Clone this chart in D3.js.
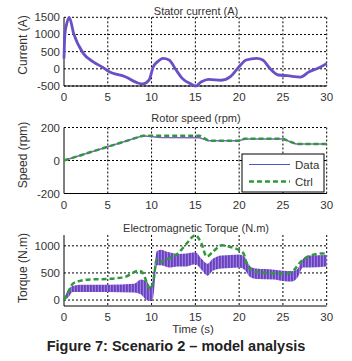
<!DOCTYPE html>
<html>
<head>
<meta charset="utf-8">
<script src="https://cdn.jsdelivr.net/npm/d3@7"></script>
<style>
  body { margin: 0; background: #fff; }
  svg text { font-family: "Liberation Sans", Arial, sans-serif; fill: #333; }
</style>
</head>
<body>
<div id="chart"></div>
<script>
// stator current (A)
var curT = [0, 0.1, 0.3, 0.6, 1.1, 2.2, 3.3, 4.6, 5, 7, 8.5, 9, 9.7, 10.2, 10.7, 11.3, 12, 12.8, 13.5, 14.5, 15, 15.7, 16.5, 18, 19, 20, 20.8, 22, 22.7, 23.5, 24.5, 25.5, 27, 28, 29, 30];
var curV = [300, 1000, 1300, 1500, 1030, 450, 210, 15, -60, -230, -420, -440, -330, 60, 210, 305, 257, -34, -277, -440, -500, -375, -306, -333, -229, 60, 257, 305, 257, 15, -180, -200, -240, -84, 15, 160];

// rotor speed (rpm)
var spdT = [0, 9, 11, 15.5, 16.5, 20, 20.6, 25, 26.5, 30];
var spdData = [0, 150, 140, 138, 120, 120, 130, 130, 100, 100];
var spdCtrl = [0, 150, 150, 150, 120, 120, 132, 132, 100, 100];

// electromagnetic torque (N.m)
var trqCtrlT = [0, 0.5, 1, 2, 3, 5, 7, 8.5, 9, 9.5, 9.8, 10.2, 10.6, 11, 12, 13, 14, 15, 15.7, 16.3, 17, 18, 19, 20, 20.5, 21, 22, 25, 26, 27, 28, 29.5, 30];
var trqCtrl = [0, 150, 300, 360, 380, 390, 430, 540, 500, 300, 200, 350, 750, 700, 770, 860, 1040, 1196, 1040, 800, 890, 1010, 980, 920, 860, 610, 520, 490, 520, 700, 810, 860, 860];
var trqT = [0, 0.5, 1, 2, 5, 8, 8.8, 9.4, 9.9, 10.2, 10.6, 11, 12, 13, 14, 15, 15.7, 16.4, 17, 18, 19, 20, 20.6, 21.3, 22, 24, 25, 26, 26.7, 27.3, 28, 30];
var trqHi = [0, 200, 260, 280, 280, 300, 380, 350, 250, 450, 900, 930, 880, 850, 860, 880, 760, 670, 760, 820, 830, 840, 800, 620, 580, 560, 540, 530, 580, 760, 820, 830];
var trqLo = [0, 50, 150, 150, 150, 140, 100, 0, -20, 50, 640, 640, 600, 620, 620, 660, 560, 450, 540, 580, 590, 600, 560, 420, 390, 380, 350, 340, 420, 600, 600, 620];

var xTicks = [0, 5, 10, 15, 20, 25, 30];
var blue = "#4a58c8", purple = "#6a4fc6", green = "#2f9a3c";

var svg = d3.select("#chart").append("svg").attr("width", 352).attr("height", 361);

var defs = svg.append("defs");
var pat = defs.append("pattern").attr("id", "ripple").attr("patternUnits", "userSpaceOnUse")
  .attr("width", 3).attr("height", 4);
pat.append("rect").attr("width", 3).attr("height", 4).attr("fill", "#9b7fdc");
pat.append("rect").attr("width", 1.8).attr("height", 4).attr("fill", "#6a3fc0");

var x = d3.scaleLinear().domain([0, 30]).range([64, 326.7]);

function panel(opt) {
  var y = d3.scaleLinear().domain(opt.domain).range(opt.range);
  var g = svg.append("g");
  var top = opt.range[1], bot = opt.range[0];
  // grid
  g.selectAll(".vg").data(xTicks.slice(1)).enter().append("line")
    .attr("x1", d => x(d)).attr("x2", d => x(d)).attr("y1", top).attr("y2", bot)
    .attr("stroke", "#000").attr("stroke-dasharray", "2,2");
  g.selectAll(".hg").data(opt.ticks).enter().append("line")
    .attr("x1", x(0)).attr("x2", x(30)).attr("y1", d => y(d)).attr("y2", d => y(d))
    .attr("stroke", "#000").attr("stroke-dasharray", "2,2");
  // axes
  g.append("line").attr("x1", x(0)).attr("x2", x(0)).attr("y1", top).attr("y2", bot).attr("stroke", "#000");
  g.append("line").attr("x1", x(0)).attr("x2", x(30)).attr("y1", bot).attr("y2", bot).attr("stroke", "#000");
  // tick labels
  g.selectAll(".yt").data(opt.ticks).enter().append("text")
    .attr("x", 60).attr("y", d => y(d) + 4).attr("text-anchor", "end")
    .style("font-size", "11.5px").text(d => d);
  g.selectAll(".xt").data(xTicks).enter().append("text")
    .attr("x", d => x(d)).attr("y", bot + 15).attr("text-anchor", "middle")
    .style("font-size", "11.5px").text(d => d);
  g.append("text").attr("x", 196).attr("y", opt.titleY).attr("text-anchor", "middle")
    .style("font-size", "11px").text(opt.title);
  g.append("text").attr("transform", "translate(27," + opt.labelY + ") rotate(-90)")
    .attr("text-anchor", "middle").style("font-size", "12px").text(opt.label);
  return { g: g, y: y };
}

// stator current
var p1 = panel({ domain: [-500, 1500], range: [86, 17.3], ticks: [-500, 0, 500, 1000, 1500],
  title: "Stator current (A)", titleY: 15, label: "Current (A)", labelY: 45 });
p1.g.append("path").datum(d3.range(curT.length))
  .attr("d", d3.line().x(i => x(curT[i])).y(i => p1.y(curV[i])).curve(d3.curveMonotoneX))
  .attr("fill", "none").attr("stroke", purple).attr("stroke-width", 2.8);

// rotor speed
var p2 = panel({ domain: [-200, 200], range: [193.5, 127.5], ticks: [-200, 0, 200],
  title: "Rotor speed (rpm)", titleY: 122, label: "Speed (rpm)", labelY: 155 });
p2.g.append("path").datum(d3.range(spdT.length))
  .attr("d", d3.line().x(i => x(spdT[i])).y(i => p2.y(spdData[i])))
  .attr("fill", "none").attr("stroke", "#8a5cc8").attr("stroke-width", 1.5);
p2.g.append("path").datum(d3.range(spdT.length))
  .attr("d", d3.line().x(i => x(spdT[i])).y(i => p2.y(spdCtrl[i])))
  .attr("fill", "none").attr("stroke", green).attr("stroke-width", 2.5).attr("stroke-dasharray", "5,3");
// legend
var lg = p2.g.append("g");
lg.append("rect").attr("x", 242).attr("y", 154).attr("width", 82).attr("height", 38)
  .attr("fill", "#fff").attr("stroke", "#000");
lg.append("line").attr("x1", 249).attr("x2", 290).attr("y1", 164.5).attr("y2", 164.5)
  .attr("stroke", blue).attr("stroke-width", 1.2);
lg.append("line").attr("x1", 249).attr("x2", 290).attr("y1", 181.5).attr("y2", 181.5)
  .attr("stroke", green).attr("stroke-width", 2.5).attr("stroke-dasharray", "5,3");
lg.append("text").attr("x", 295).attr("y", 168.5).style("font-size", "11.5px").text("Data");
lg.append("text").attr("x", 295).attr("y", 185.5).style("font-size", "11.5px").text("Ctrl");

// torque
var p3 = panel({ domain: [-110, 1200], range: [306, 235], ticks: [0, 500, 1000],
  title: "Electromagnetic Torque (N.m)", titleY: 232, label: "Torque (N.m)", labelY: 268 });
p3.g.append("path").datum(d3.range(trqT.length))
  .attr("d", d3.area().x(i => x(trqT[i])).y0(i => p3.y(trqLo[i])).y1(i => p3.y(trqHi[i])).curve(d3.curveMonotoneX))
  .attr("fill", "url(#ripple)");
p3.g.append("path").datum(d3.range(trqCtrlT.length))
  .attr("d", d3.line().x(i => x(trqCtrlT[i])).y(i => p3.y(trqCtrl[i])).curve(d3.curveMonotoneX))
  .attr("fill", "none").attr("stroke", green).attr("stroke-width", 2.5).attr("stroke-dasharray", "5,3");
svg.append("text").attr("x", 193).attr("y", 333).attr("text-anchor", "middle")
  .style("font-size", "11.5px").text("Time (s)");

svg.append("text").attr("x", 176).attr("y", 351).attr("text-anchor", "middle")
  .style("font-size", "14.5px").style("font-weight", "bold").style("fill", "#222")
  .text("Figure 7: Scenario 2 – model analysis");
</script>
</body>
</html>
